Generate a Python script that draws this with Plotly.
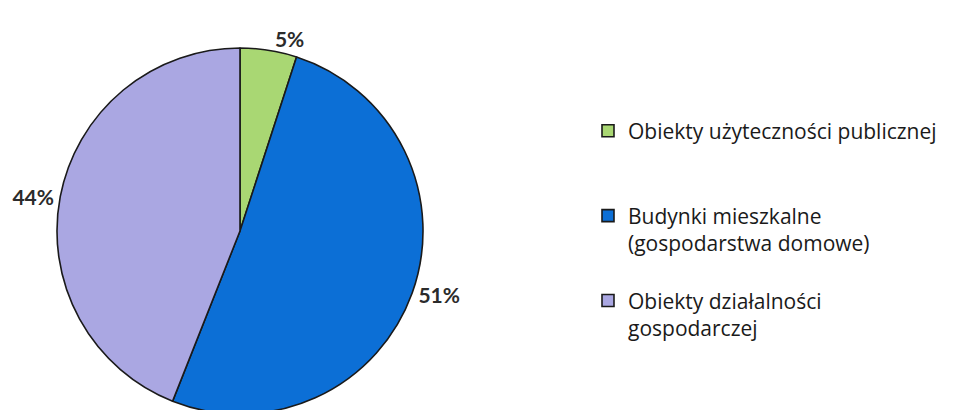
import plotly.graph_objects as go

labels = ["Obiekty użyteczności publicznej", "Budynki mieszkalne<br>(gospodarstwa domowe)", "Obiekty działalności<br>gospodarczej"]
values = [5, 51, 44]
colors = ["#a9d773", "#0c6fd6", "#aaa7e2"]
legend_pad = ["<br> <br> ", "<br> ", ""]

W, H = 956, 410
top = 36
R = 183
cx = 232

fig = go.Figure(go.Pie(
    labels=[l + p for l, p in zip(labels, legend_pad)],
    values=values,
    sort=False,
    direction="clockwise",
    rotation=0,
    marker=dict(colors=colors, line=dict(color="#1a1a1a", width=1.6)),
    textposition="outside",
    texttemplate="%{value}%",
    textfont=dict(family="Lato", size=21, color="#2b2b2b", weight="bold"),
    domain=dict(x=[(cx - R) / W, (cx + R) / W], y=[0, 1]),
    hoverinfo="skip",
))

fig.update_layout(
    width=W, height=H,
    margin=dict(l=0, r=0, t=top, b=0, autoexpand=False),
    paper_bgcolor="white",
    plot_bgcolor="white",
    showlegend=True,
    legend=dict(
        x=580 / W, y=1 - 73 / H, xanchor="left", yanchor="top",
        font=dict(family="Open Sans", size=21, color="#1a1a1a"),
        valign="top",
        itemwidth=30,
        bgcolor="rgba(0,0,0,0)",
    ),
)

fig.write_html("out.html")
